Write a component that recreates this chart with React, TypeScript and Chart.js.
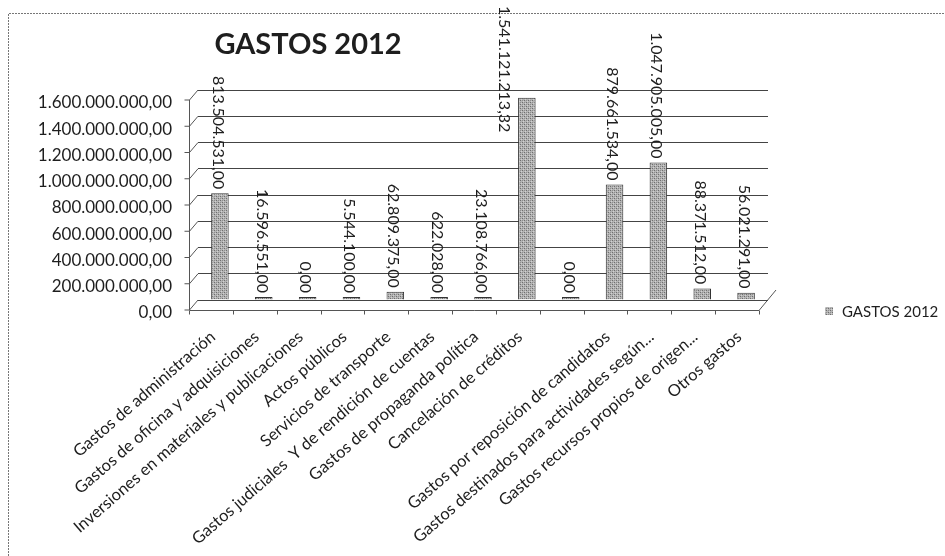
import React, { useEffect, useRef } from "react";
import { Chart, registerables } from "chart.js";
Chart.register(...registerables);

const chartTitle = "GASTOS 2012";
const seriesName = "GASTOS 2012";
const categories = [
  "Gastos de administración",
  "Gastos de oficina y adquisiciones",
  "Inversiones en materiales y publicaciones",
  "Actos públicos",
  "Servicios de transporte",
  "Gastos judiciales  Y de rendición de cuentas",
  "Gastos de propaganda política",
  "Cancelación de créditos",
  "",
  "Gastos por reposición de candidatos",
  "Gastos destinados para actividades según...",
  "Gastos recursos propios de origen...",
  "Otros gastos",
];
const values = [
  813504531, 16596551, 0, 5544100, 62809375, 622028, 23108766,
  1541121213.32, 0, 879661534, 1047905005, 88371512, 56021291,
];
const yMin = 0;
const yMax = 1600000000;
const yStep = 200000000;

function fmt(v: number): string {
  const [i, d] = Math.abs(v).toFixed(2).split(".");
  return (v < 0 ? "-" : "") + i.replace(/\B(?=(\d{3})+(?!\d))/g, ".") + "," + d;
}

function makePattern(): CanvasPattern | string {
  const c = document.createElement("canvas");
  c.width = 4;
  c.height = 4;
  const g = c.getContext("2d");
  if (!g) return "#a8a8a8";
  g.fillStyle = "#b4b4b4";
  g.fillRect(0, 0, 4, 4);
  g.fillStyle = "#6e6e6e";
  g.fillRect(0, 0, 1, 1);
  g.fillRect(2, 2, 1, 1);
  g.fillStyle = "#8e8e8e";
  g.fillRect(2, 0, 1, 1);
  g.fillRect(0, 2, 1, 1);
  g.fillStyle = "#d0d0d0";
  g.fillRect(1, 3, 1, 1);
  g.fillRect(3, 1, 1, 1);
  const p = g.createPattern(c, "repeat");
  return p || "#a8a8a8";
}

const TEXT = "#1e1e1e";

export default function App() {
  const ref = useRef<HTMLCanvasElement>(null);
  useEffect(() => {
    if (!ref.current) return;
    const pattern = makePattern();
    const decor = {
      id: "decor",
      beforeDraw(chart: any) {
        const { ctx, chartArea: a, scales } = chart;
        const y = scales.y;
        ctx.save();
        // scanned frame
        ctx.strokeStyle = "#777";
        ctx.lineWidth = 1;
        ctx.setLineDash([2, 1]);
        ctx.beginPath();
        ctx.moveTo(8.5, 556);
        ctx.lineTo(8.5, 13.5);
        ctx.lineTo(945, 13.5);
        ctx.stroke();
        ctx.setLineDash([]);
        // 3D wall & floor
        const dx = -9;
        const dy = 10;
        const fx = Math.round(a.left + dx) + 0.5;
        ctx.strokeStyle = "#555";
        ctx.beginPath();
        ctx.moveTo(fx, y.getPixelForValue(yMax) + dy);
        ctx.lineTo(fx, a.bottom + dy);
        for (let v = yMin; v <= yMax; v += yStep) {
          const gy = y.getPixelForValue(v);
          ctx.moveTo(fx - 5, gy + dy);
          ctx.lineTo(fx, gy + dy);
          ctx.lineTo(a.left, gy);
        }
        const fy = Math.round(a.bottom + dy) + 0.5;
        ctx.moveTo(fx, fy);
        ctx.lineTo(a.right + dx, fy);
        ctx.lineTo(a.right + 8, a.bottom - 10);
        const n = categories.length;
        for (let i = 0; i <= n; i++) {
          const bx = Math.round(a.left + (i * a.width) / n + dx) + 0.5;
          ctx.moveTo(bx, fy);
          ctx.lineTo(bx, fy + 4);
        }
        ctx.stroke();
        // title
        ctx.fillStyle = TEXT;
        ctx.font = "bold 29px Lato";
        ctx.textAlign = "center";
        ctx.textBaseline = "alphabetic";
        ctx.fillText(chartTitle, 308, 54);
        // legend
        ctx.fillStyle = pattern;
        ctx.fillRect(825, 307, 8, 8);
        ctx.fillStyle = TEXT;
        ctx.font = "15px Lato";
        ctx.textAlign = "left";
        ctx.textBaseline = "middle";
        ctx.fillText(seriesName, 842, 312);
        ctx.restore();
      },
      afterDatasetsDraw(chart: any) {
        const { ctx } = chart;
        const meta = chart.getDatasetMeta(0);
        ctx.save();
        ctx.fillStyle = TEXT;
        ctx.font = "16px Lato";
        ctx.textAlign = "left";
        ctx.textBaseline = "middle";
        meta.data.forEach((bar: any, i: number) => {
          const txt = fmt(values[i]);
          const w = ctx.measureText(txt).width;
          let yEnd = bar.y - 4;
          let yStart = yEnd - w;
          let xc = bar.x - 2;
          if (yStart < 6) {
            yStart = 6;
            yEnd = yStart + w;
            if (yEnd > bar.y - 2) xc = bar.x - bar.width / 2 - 14;
          }
          ctx.save();
          ctx.translate(xc, yStart);
          ctx.rotate(Math.PI / 2);
          ctx.fillText(txt, 0, 0);
          ctx.restore();
        });
        ctx.restore();
      },
    };
    const chart = new Chart(ref.current, {
      type: "bar",
      data: {
        labels: categories,
        datasets: [
          {
            label: seriesName,
            data: values,
            backgroundColor: pattern as any,
            borderColor: "#333",
            borderWidth: 1,
            barPercentage: 0.4,
            categoryPercentage: 1,
            minBarLength: 3,
          },
        ],
      },
      options: {
        animation: false,
        responsive: true,
        maintainAspectRatio: false,
        layout: { padding: { top: 90, right: 177, bottom: 0, left: 0 } },
        plugins: {
          legend: { display: false },
          title: { display: false },
          tooltip: { enabled: false },
        },
        scales: {
          x: {
            grid: { display: false },
            border: { display: false },
            ticks: {
              autoSkip: false,
              minRotation: 41,
              maxRotation: 41,
              font: { family: "Lato", size: 16.5 },
              color: TEXT,
              padding: 19,
              labelOffset: -7,
            },
            afterFit(s: any) {
              s.height = 256;
            },
          },
          y: {
            min: yMin,
            max: yMax,
            border: { display: false },
            grid: { color: "#444", lineWidth: 1, drawTicks: false },
            ticks: {
              stepSize: yStep,
              callback: (v: any) => fmt(Number(v)),
              font: { family: "Lato", size: 17 },
              color: TEXT,
              padding: 26,
              labelOffset: 13,
            },
            afterFit(s: any) {
              s.width = 198;
            },
          },
        },
      },
      plugins: [decor],
    });
    return () => chart.destroy();
  }, []);
  return (
    <div
      style={{
        position: "fixed",
        left: 0,
        top: 0,
        width: 945,
        height: 556,
        background: "#fff",
      }}
    >
      <canvas ref={ref} />
    </div>
  );
}
